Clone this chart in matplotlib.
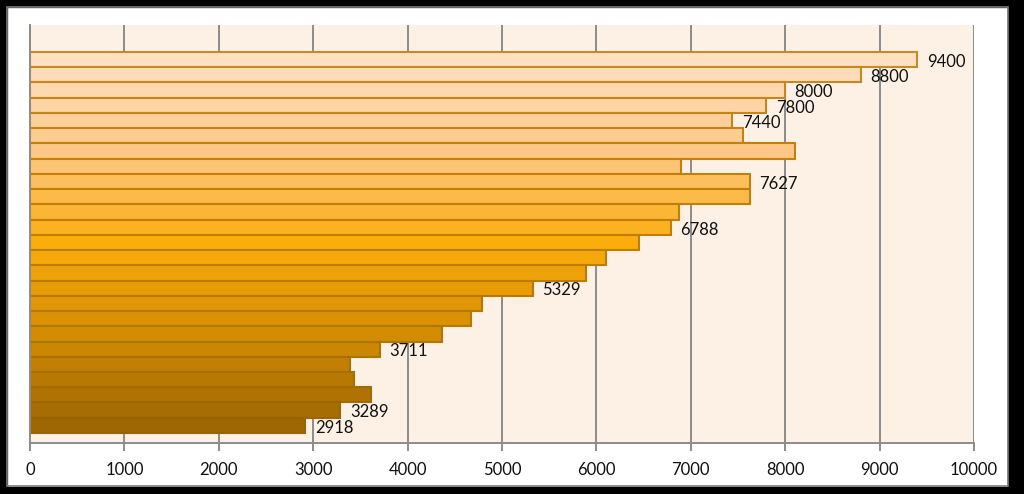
import matplotlib
matplotlib.use("Agg")
import matplotlib.pyplot as plt
from matplotlib.colors import LinearSegmentedColormap
from matplotlib.patches import Rectangle
import numpy as np

# values top to bottom
values = [9400, 8800, 8000, 7800, 7440, 7550, 8100, 6900, 7627, 7627,
          6870, 6788, 6450, 6100, 5890, 5329, 4785, 4672, 4368, 3711,
          3390, 3432, 3612, 3289, 2918]
# which bars carry a value label
labeled = [9400, 8800, 8000, 7800, 7440, None, None, None, 7627, None,
           None, 6788, None, None, None, 5329, None, None, None, 3711,
           None, None, None, 3289, 2918]
x_ticks = [0, 1000, 2000, 3000, 4000, 5000, 6000, 7000, 8000, 9000, 10000]

plt.rcParams['font.family'] = ['Lato', 'DejaVu Sans']

fig = plt.figure(figsize=(10.24, 4.94), dpi=100)
fig.patch.set_facecolor("white")
ax = fig.add_axes([30 / 1024, 1 - 443 / 494, 944 / 1024, 418 / 494])
ax.set_facecolor("#FDF1E6")

cmap = LinearSegmentedColormap.from_list(
    "amber", ["#FEE0C2", "#FDC887", "#FBAD0C", "#D48C02", "#9E6704"])
n = len(values)
fills = [cmap(i / (n - 1)) for i in range(n)]
edges_cmap = LinearSegmentedColormap.from_list(
    "amber_edge", ["#C98A24", "#C4800C", "#C07E00", "#B07800", "#986402"])
edges = [edges_cmap(i / (n - 1)) for i in range(n)]

pos = np.arange(n)
ax.barh(pos, values, height=1.0, color=fills, edgecolor=edges,
        linewidth=1.5, zorder=3)

for p, v, lab in zip(pos, values, labeled):
    if lab is not None:
        ax.text(v + 100, p + 0.15, str(lab), ha="left", va="center",
                fontsize=12, color="#111111", zorder=4)

ax.set_xlim(0, 10000)
ax.set_ylim(25.16, -2.27)
ax.set_xticks(x_ticks)
ax.set_xticklabels([str(t) for t in x_ticks], fontsize=12, color="#111111")
ax.set_yticks([])
ax.grid(axis="x", color="#8C8C8C", linewidth=1.4, zorder=1)
ax.tick_params(axis="x", length=6, width=1.4, color="#8C8C8C", pad=8)

for side in ["top", "right"]:
    ax.spines[side].set_visible(False)
for side in ["left", "bottom"]:
    ax.spines[side].set_color("#8C8C8C")
    ax.spines[side].set_linewidth(1.4)
    ax.spines[side].set_zorder(5)

# picture frame
fig.patches.append(Rectangle((0, 0), 1, 1, transform=fig.transFigure,
                             fill=False, edgecolor="black", linewidth=11))
fig.patches.append(Rectangle((1008 / 1024, 0), 16 / 1024, 1,
                             transform=fig.transFigure, color="black"))
fig.patches.append(Rectangle((7 / 1024, 8 / 494), 1001 / 1024, 479 / 494,
                             transform=fig.transFigure, fill=False,
                             edgecolor="#7A7A7A", linewidth=1.2))

fig.savefig("out.png", dpi=100)
